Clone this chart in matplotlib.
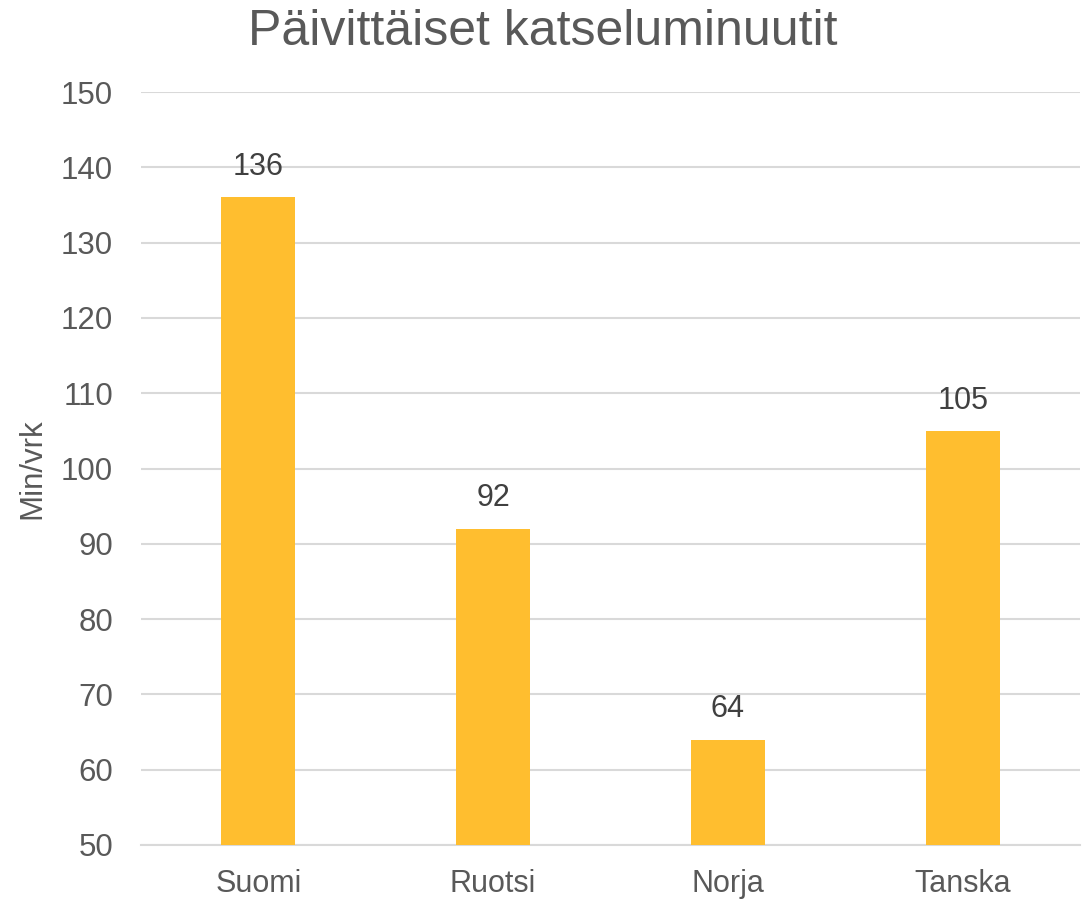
import matplotlib

matplotlib.use("Agg")

import matplotlib.pyplot as plt

# data
countries = ["Suomi", "Ruotsi", "Norja", "Tanska"]
minutes = [136, 92, 64, 105]
y_ticks = [50, 60, 70, 80, 90, 100, 110, 120, 130, 140, 150]

TEXT = "#595959"
BAR = "#FFBE2F"
GRID = "#D9D9D9"

plt.rcParams["font.family"] = ["Liberation Sans", "DejaVu Sans"]

fig = plt.figure(figsize=(10.86, 9.0), dpi=100)
ax = fig.add_axes([141 / 1086, 55 / 900, 939 / 1086, 753 / 900])

x = range(len(countries))
ax.bar(x, [m - 50 for m in minutes], bottom=50, width=0.315, color=BAR, zorder=3)
for xi, m in zip(x, minutes):
    ax.annotate(str(m), (xi, m), xytext=(0, 11), textcoords="offset points",
                ha="center", va="bottom", fontsize=22, color="#404040")

ax.set_xlim(-0.5, len(countries) - 0.5)
ax.set_ylim(50, 150)
ax.set_yticks(y_ticks)
ax.set_xticks(list(x))
ax.set_xticklabels(countries)
ax.tick_params(axis="y", length=0, pad=20, labelsize=22.5, labelcolor=TEXT)
ax.tick_params(axis="x", length=0, pad=17, labelsize=22, labelcolor=TEXT)
ax.grid(axis="y", color=GRID, linewidth=1.5, zorder=0)
for side in ["top", "right", "left"]:
    ax.spines[side].set_visible(False)
ax.spines["bottom"].set_color(GRID)
ax.spines["bottom"].set_linewidth(1.5)

ax.set_ylabel("Min/vrk", fontsize=22.5, color=TEXT, labelpad=10)
fig.text(0.5, 1 - 32 / 900, "Päivittäiset katseluminuutit", ha="center", va="center",
         fontsize=36, color=TEXT)

fig.savefig("out.png", dpi=100)
